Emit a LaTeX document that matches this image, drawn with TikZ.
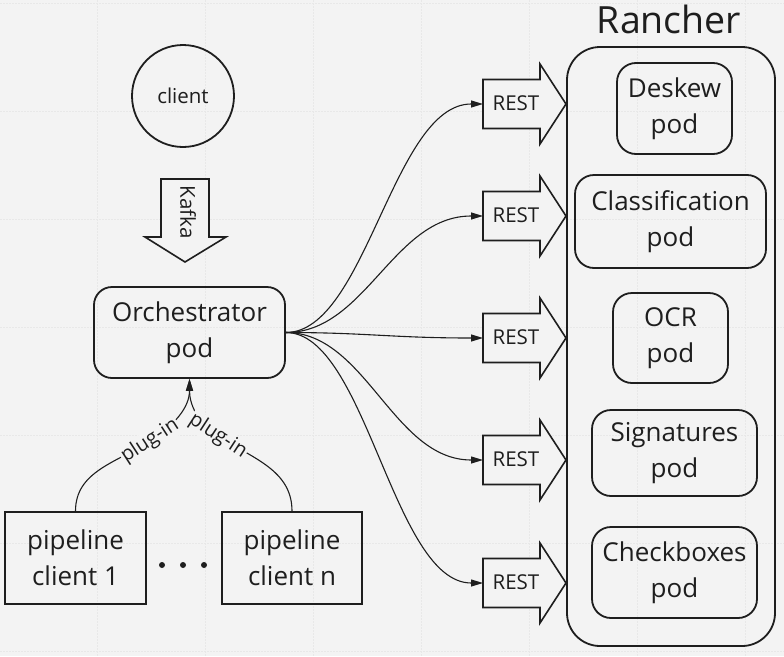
\documentclass[tikz,border=0pt]{standalone}
\usepackage{fontspec}
\setmainfont{Open Sans}
\usetikzlibrary{arrows.meta}
\definecolor{bg}{HTML}{F3F3F3}
\definecolor{gridc}{HTML}{E8E8E8}
\definecolor{ink}{HTML}{1E1E1E}
\begin{document}
\begin{tikzpicture}[x=1pt,y=-1pt,
  box/.style={draw=ink,line width=1.8pt,inner sep=0pt,align=center,
    font=\fontsize{26}{36}\selectfont,text=ink},
  podbox/.style={box,rounded corners=19pt},
  small/.style={font=\fontsize{20.5}{22}\selectfont,text=ink},
  blockarrow/.style={draw=ink,line width=1.6pt,line join=miter,fill=bg},
  conn/.style={draw=ink,line width=1.1pt,-{Triangle[length=12pt,width=7pt]}},
  plug/.style={fill=bg,inner sep=1pt,font=\fontsize{20}{22}\selectfont,text=ink},
  gridline/.style={draw=gridc,line width=1pt,dash pattern=on 1.5pt off 1.5pt}]
% background and margins
\fill[bg] (0,0) rectangle (784,656);
\useasboundingbox (0,0) rectangle (784,656);
\foreach \gx in {97,205,313,421,529,637,745} {\draw[gridline] (\gx,0) -- (\gx,656);}
\foreach \gy in {3,111,219,327,435,543,651} {\draw[gridline] (0,\gy) -- (784,\gy);}

% client and Kafka
\node[draw=ink,line width=1.8pt,circle,minimum size=102pt,inner sep=0pt,small] (client) at (183,96) {client};
\draw[blockarrow] (161,179) -- (209,179) -- (209,237) -- (226,237) -- (185,262) -- (145,237) -- (161,237) -- cycle;
\node[small,rotate=-90] (kafka) at (188,212) {Kafka};

% orchestrator
\node[box,rounded corners=18pt,minimum width=191pt,minimum height=91pt] (orch) at (189.5,332.5) {Orchestrator\\pod};

% pipeline clients
\node[box,minimum width=141pt,minimum height=92pt] (p1) at (75.5,558) {pipeline\\client 1};
\node[box,minimum width=140pt,minimum height=92pt] (pn) at (292,558) {pipeline\\client n};
\foreach \dx/\dn in {162/a,183/b,204/c} {\node[circle,fill=ink,minimum size=6pt,inner sep=0pt] (dot\dn) at (\dx,565) {};}

% plug-in connectors
\coordinate (jl) at (150,441);
\coordinate (jr) at (218,436);
\draw[conn] (p1.north) to[out=90,in=213] (jl) to[out=33,in=-90] (orch.south);
\draw[conn] (pn.north) to[out=90,in=-33] (jr) to[out=147,in=-90] (orch.south);
\node[plug,rotate=33] (plugl) at (jl) {plug-in};
\node[plug,rotate=-33] (plugr) at (jr) {plug-in};

% Rancher
\node[font=\fontsize{37.5}{40}\selectfont,text=ink] (ranchertitle) at (669,19) {Rancher};
\draw[draw=ink,line width=1.8pt,rounded corners=33pt] (567,47) rectangle (775,646);
\node[podbox,minimum width=115pt,minimum height=91pt] (deskew) at (674.5,108.5) {Deskew\\pod};
\node[podbox,minimum width=191pt,minimum height=93pt] (classif) at (670.5,221.5) {Classification\\pod};
\node[podbox,minimum width=115pt,minimum height=90pt] (ocr) at (670.5,338) {OCR\\pod};
\node[podbox,minimum width=165pt,minimum height=86pt] (sign) at (674.5,453) {Signatures\\pod};
\node[podbox,minimum width=165pt,minimum height=91pt] (check) at (674.5,572.5) {Checkboxes\\pod};

% REST block arrows
\foreach \ry/\rn in {104/1,216/2,338/3,460/4,583/5} {
  \draw[blockarrow] (483,\ry-24.5) -- (540,\ry-24.5) -- (540,\ry-40) -- (566,\ry)
    -- (540,\ry+40) -- (540,\ry+24.5) -- (483,\ry+24.5) -- cycle;
  \node[small] (rest\rn) at (516,\ry-1) {REST};
  \coordinate (in\rn) at (483,\ry);
}

% fan-out connectors
\foreach \rn in {1,2,3,4,5} {
  \draw[conn] (orch.east) .. controls +(80,0) and +(-90,0) .. (in\rn);
}
\end{tikzpicture}
\end{document}
